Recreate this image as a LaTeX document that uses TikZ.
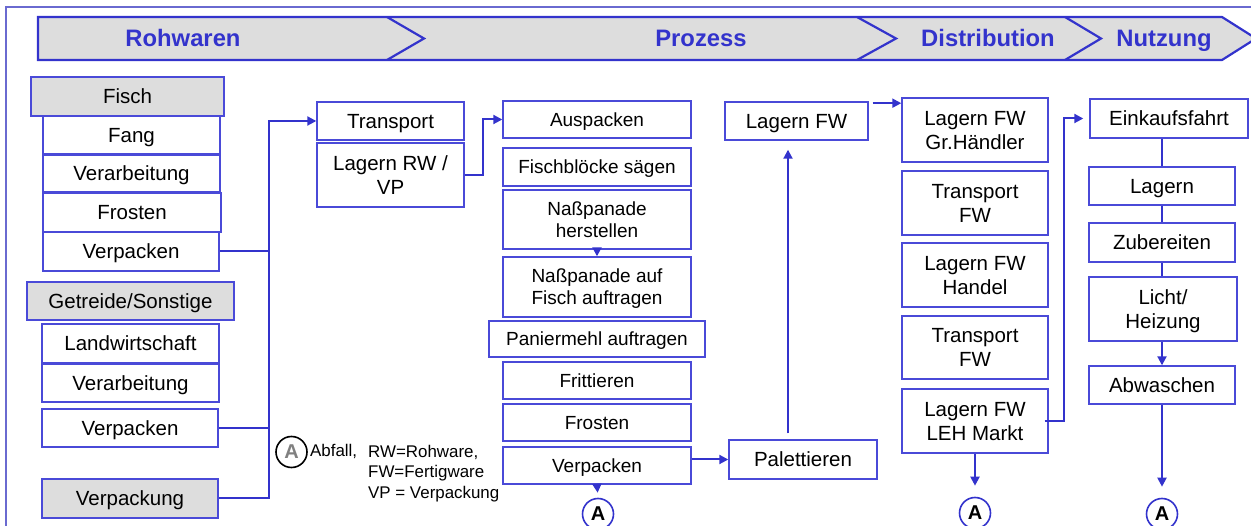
\documentclass[tikz,border=0pt]{standalone}
\usepackage{fontspec}
\setmainfont{Liberation Sans}
\usetikzlibrary{arrows.meta}

\definecolor{flowblue}{HTML}{3333CC}
\definecolor{boxblue}{HTML}{4A4AD8}
\definecolor{bandgray}{HTML}{DDDDDD}
\definecolor{framebl}{HTML}{6A6AD0}

\tikzset{
    box/.style={draw=boxblue, fill=white, line width=1.4pt, align=center, inner sep=0pt, text depth=0pt, font=\fontsize{20.5}{24}\selectfont},
    graybox/.style={box, fill=bandgray},
    smallbox/.style={box, font=\fontsize{19}{22}\selectfont},
    conn/.style={draw=flowblue, line width=2pt},
    arr/.style={conn, -{Triangle[length=9pt, width=9pt]}},
    waste/.style={circle, draw=flowblue, fill=white, line width=1.6pt, minimum size=31pt, inner sep=0pt, font=\fontsize{20}{20}\selectfont\bfseries},
    phase/.style={anchor=base, text=flowblue, font=\fontsize{23.8}{26}\selectfont\bfseries},
    legend/.style={inner sep=0pt, font=\fontsize{16.9}{20.5}\selectfont},
}

\begin{document}
\begin{tikzpicture}[x=1pt, y=-1pt]
    \useasboundingbox (0,0) rectangle (1251,526);
    % frame and phase band
    \draw[draw=framebl, line width=1.5pt] (6,560) -- (6,7) -- (1270,7);
    \draw[draw=flowblue, line width=2.2pt, fill=bandgray] (38,17) -- (1222,17) -- (1256,38.5) -- (1222,60) -- (38,60) -- cycle;
    \foreach \xa/\xb in {387/424, 857/896, 1065/1101}
        \draw[draw=flowblue, line width=2.2pt] (\xa,17) -- (\xb,38.5) -- (\xa,60);
    \node[phase] (rohwaren) at (183, 46.5) {Rohwaren};
    \node[phase] (prozess) at (701, 46.5) {Prozess};
    \node[phase] (distribution) at (988, 46.5) {Distribution};
    \node[phase] (nutzung) at (1164, 46.5) {Nutzung};

    % Rohwaren
    \node[graybox, minimum width=193, minimum height=39] (fisch) at (127.5, 96.5) {Fisch};
    \node[box, minimum width=177, minimum height=38] (fang) at (131.5, 135) {Fang};
    \node[box, minimum width=177, minimum height=37] (verarbF) at (131.5, 173.5) {Verarbeitung};
    \node[box, minimum width=178, minimum height=39] (frostenF) at (132, 212.5) {Frosten};
    \node[box, minimum width=176, minimum height=39] (verpackenF) at (131, 251.5) {Verpacken};
    \node[graybox, minimum width=207, minimum height=38] (getreide) at (130.5, 301) {Getreide/Sonstige};
    \node[box, minimum width=177, minimum height=39] (landw) at (130.5, 343.5) {Landwirtschaft};
    \node[box, minimum width=177, minimum height=38] (verarbG) at (130.5, 383) {Verarbeitung};
    \node[box, minimum width=176, minimum height=38] (verpackenG) at (130, 428) {Verpacken};
    \node[graybox, minimum width=176, minimum height=39] (verpackung) at (130, 498.5) {Verpackung};

    % Prozess
    \node[box, minimum width=147, minimum height=38] (transport) at (390.5, 121) {Transport};
    \node[box, minimum width=147, minimum height=64] (lagernRW) at (390.5, 175) {Lagern RW /\\VP};
    \node[smallbox, minimum width=188, minimum height=37] (auspacken) at (597, 119.5) {Auspacken};
    \node[smallbox, minimum width=188, minimum height=38] (saegen) at (597, 167) {Fischblöcke sägen};
    \node[smallbox, minimum width=188, minimum height=59] (nassA) at (597, 219.5) {Naßpanade\\herstellen};
    \node[smallbox, minimum width=188, minimum height=60] (nassB) at (597, 287) {Naßpanade auf\\Fisch auftragen};
    \node[smallbox, minimum width=216, minimum height=36] (paniermehl) at (597, 339) {Paniermehl auftragen};
    \node[smallbox, minimum width=188, minimum height=37] (frittieren) at (597, 380.5) {Frittieren};
    \node[smallbox, minimum width=188, minimum height=37] (frostenP) at (597, 422.5) {Frosten};
    \node[smallbox, minimum width=188, minimum height=37] (verpackenP) at (597, 465.5) {Verpacken};
    \node[waste] (abfallP) at (598, 514) {A};
    \node[box, minimum width=148, minimum height=39] (palettieren) at (803, 459.5) {Palettieren};
    \node[box, minimum width=143, minimum height=38] (lagernFW) at (796.5, 121) {Lagern FW};

    % Distribution
    \node[box, minimum width=146, minimum height=64] (grhaendler) at (975, 130) {Lagern FW\\Gr.Händler};
    \node[box, minimum width=146, minimum height=64] (transFWa) at (975, 203) {Transport\\FW};
    \node[box, minimum width=146, minimum height=64] (handel) at (975, 275) {Lagern FW\\Handel};
    \node[box, minimum width=146, minimum height=63] (transFWb) at (975, 347.5) {Transport\\FW};
    \node[box, minimum width=146, minimum height=64] (leh) at (975, 421) {Lagern FW\\LEH Markt};
    \node[waste] (abfallD) at (975, 513) {A};

    % Nutzung
    \node[box, minimum width=158, minimum height=39] (einkauf) at (1169, 118.5) {Einkaufsfahrt};
    \node[box, minimum width=146, minimum height=38] (lagern) at (1162, 186) {Lagern};
    \node[box, minimum width=146, minimum height=39] (zubereiten) at (1162, 242.5) {Zubereiten};
    \node[box, minimum width=148, minimum height=64] (licht) at (1163, 309) {Licht/\\Heizung};
    \node[box, minimum width=146, minimum height=38] (abwaschen) at (1162, 385) {Abwaschen};
    \node[waste] (abfallN) at (1162, 514) {A};

    % legend
    \node[waste, draw=black, text=gray] (abfallL) at (291.5, 452) {A};
    \node[legend, anchor=base west] (abfall) at (310, 457) {Abfall,};
    \node[legend, anchor=north west, align=left] (kuerzel) at (368, 445) {RW=Rohware,\\FW=Fertigware\\VP = Verpackung};

    % connectors
    \coordinate (bus) at (269, 121);
    \coordinate (knickRW) at (483, 119.5);
    \coordinate (knickLEH) at (1064, 118.5);
    \draw[conn] (verpackenF.east) -- (verpackenF.east -| bus);
    \draw[conn] (verpackenG.east) -- (verpackenG.east -| bus);
    \draw[arr] (verpackung.east) -| (bus) -- (transport.west);
    \draw[arr] (lagernRW.east) -| (knickRW) -- (auspacken.west);
    \draw[arr] (nassA.south) -- (nassB.north);
    \draw[arr, shorten >=5pt] (verpackenP.south) -- (abfallP.north);
    \draw[arr] (verpackenP.east |- palettieren.west) -- (palettieren.west);
    \draw[arr] ([xshift=-15pt, yshift=6pt]palettieren.north) -- ([xshift=-8.5pt, yshift=-9pt]lagernFW.south);
    \draw[arr, shorten <=4pt] (lagernFW.east |- grhaendler.160) -- (grhaendler.160 -| grhaendler.west);
    \draw[arr] ([xshift=-4pt]leh.east) -| (knickLEH) -- ([xshift=-6pt]einkauf.west);
    \draw[arr, shorten >=11pt] (leh.south) -- (abfallD.north);
    \draw[conn] (lagern.north) -- (lagern.north |- einkauf.south);
    \draw[conn] (zubereiten.north) -- (lagern.south);
    \draw[conn] (zubereiten.south) -- (zubereiten.south |- licht.north);
    \draw[arr] (licht.south -| abwaschen.north) -- (abwaschen.north);
    \draw[arr, shorten >=11pt] (abwaschen.south) -- (abfallN.north);
\end{tikzpicture}
\end{document}
